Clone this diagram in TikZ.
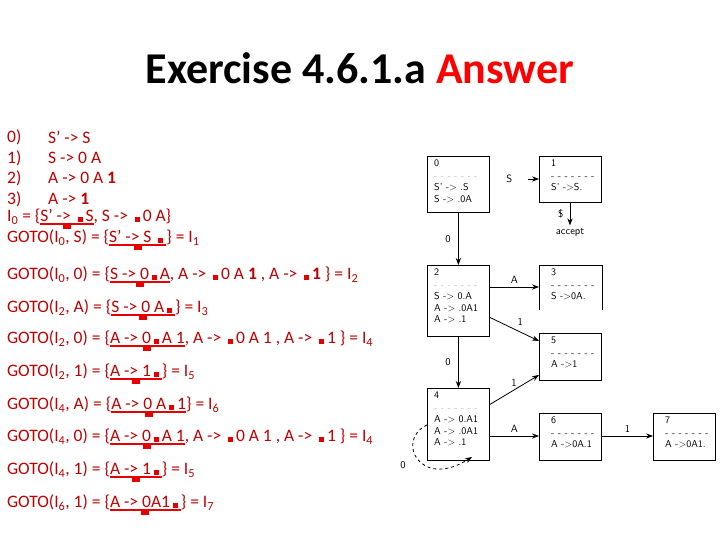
\documentclass[tikz,border=0pt]{standalone}
\usepackage{fontspec}
\setmainfont{Carlito}
\usetikzlibrary{arrows.meta}
\definecolor{dred}{RGB}{192,0,0}
\definecolor{ured}{RGB}{230,0,0}
\newcommand\dt{\,{\color{ured}\rule{5pt}{5pt}}\,}
\newcommand\sub[1]{\textsubscript{#1}}
\newcommand\ubr[1]{\setbox0\hbox{#1}\rlap{\color{ured}\raisebox{-3pt}{\rule{\wd0}{1.5pt}}\kern-0.5\wd0\kern-4pt\raisebox{-7pt}{\rule{8pt}{5pt}}}\box0}
\tikzset{
  rule/.style={anchor=west, text=dred, font=\fontsize{17.5}{17.5}\selectfont, inner sep=0pt},
  st/.style={draw, thick, minimum width=62pt, anchor=north west, inner sep=0pt},
  itm/.style={anchor=north west, font=\fontsize{10}{11.5}\selectfont\sffamily, align=left, inner sep=0pt},
  tr/.style={-{Stealth[length=7pt]}, thick},
  lab/.style={font=\fontsize{10.5}{10.5}\selectfont\sffamily}
}
\begin{document}
\begin{tikzpicture}[x=1pt, y=-1pt]
  \useasboundingbox (0,0) rectangle (720,540);
  \node[font=\fontsize{44}{44}\selectfont\bfseries] (title) at (360,68) {Exercise 4.6.1.a \textcolor{red}{Answer}};

  % grammar
  \foreach \n/\p/\y in {0)/S' -> S/137, 1)/S -> 0 A/158, 2)/A -> 0 A \textbf{1}/178, 3)/A -> \textbf{1}/199} {
    \node[rule] at (7,\y) {\n};
    \node[rule] at (48,\y) {\p};
  }
  \node[rule] (i0) at (7,219) {I\sub0 = \{\ubr{S' -> \dt S} , S -> \dt 0 A\}};
  \node[rule] (g1) at (7,240) {GOTO(I\sub0, S) = \{\ubr{S' -> S \dt} \} = I\sub1};
  \node[rule] (g2) at (7,277) {GOTO(I\sub0, 0) = \{\ubr{S -> 0\dt A}, A -> \dt 0 A \textbf{1} , A -> \dt \textbf{1} \} = I\sub2};
  \node[rule] (g3) at (7,310) {GOTO(I\sub2, A) = \{\ubr{S -> 0 A\dt} \} = I\sub3};
  \node[rule] (g4) at (7,341) {GOTO(I\sub2, 0) = \{\ubr{A -> 0\dt A 1}, A -> \dt 0 A 1 , A -> \dt 1 \} = I\sub4};
  \node[rule] (g5) at (7,374) {GOTO(I\sub2, 1) = \{\ubr{A -> 1\dt} \} = I\sub5};
  \node[rule] (g6) at (7,407) {GOTO(I\sub4, A) = \{\ubr{A -> 0 A\dt 1}\} = I\sub6};
  \node[rule] (g7) at (7,439) {GOTO(I\sub4, 0) = \{\ubr{A -> 0\dt A 1} , A -> \dt 0 A 1 , A -> \dt 1 \} = I\sub4};
  \node[rule] (g8) at (7,472) {GOTO(I\sub4, 1) = \{\ubr{A -> 1\dt} \} = I\sub5};
  \node[rule] (g9) at (7,505) {GOTO(I\sub6, 1) = \{\ubr{A -> 0A1\dt} \} = I\sub7};

  % states
  \node[st, minimum height=56pt] (s0) at (427,156) {};
  \node[st, minimum height=46pt] (s1) at (539,156) {};
  \node[st, minimum height=71pt] (s2) at (427,265) {};
  \draw[thick] (539,310) |- (602,265) -- (602,310);
  \coordinate (s3) at (539,287);
  \node[st, minimum height=47pt] (s5) at (539,333) {};
  \node[st, minimum height=72pt] (s4) at (427,388) {};
  \node[st, minimum height=47pt] (s6) at (539,413) {};
  \node[st, minimum height=47pt] (s7) at (653,413) {};

  \node[itm] at (434,160) {0\\[1pt]\textcolor{gray!60}{- - - - - - -}\\S' -> .S\\S -> .0A};
  \node[itm] at (551,160) {1\\[1pt]- - - - - - -\\S' ->S.};
  \node[itm] at (434,269) {2\\[1pt]\textcolor{gray!60}{- - - - - - -}\\S -> 0.A\\A -> .0A1\\A -> .1};
  \node[itm] at (551,269) {3\\[1pt]- - - - - - -\\S ->0A.};
  \node[itm] at (551,337) {5\\[1pt]- - - - - - -\\A ->1};
  \node[itm] at (434,392) {4\\[1pt]\textcolor{gray!60}{- - - - - - -}\\A -> 0.A1\\A -> .0A1\\A -> .1};
  \node[itm] at (551,417) {6\\[1pt]- - - - - - -\\A ->0A.1};
  \node[itm] at (665,417) {7\\[1pt]- - - - - - -\\A ->0A1.};

  % transitions
  \coordinate (sin) at (528,179);
  \node[lab] (acc) at (570,233) {accept};
  \draw[tr] (sin) -- (s1.west |- sin) node[lab, pos=0, left=12pt] {S};
  \draw[tr] (s1.south -| acc) -- (acc.north) node[lab, midway, left=3pt] {\$};
  \draw[tr] (s0) -- (s2) node[lab, midway, left=4pt] {0};
  \draw[tr] (s2.east |- s3) -- (s3) node[lab, midway, above] {A};
  \draw[tr] (489,317) -- (s5.west |- 0,341) node[lab, midway, above right] {1};
  \draw[tr] (s2) -- (s4) node[lab, midway, left=4pt] {0};
  \draw[tr] (489,405) -- (s5.west |- 0,375) node[lab, midway, above] {1};
  \draw[tr] (s4.east |- 0,436) -- (s6.west |- 0,436) node[lab, midway, above] {A};
  \draw[tr] (s6.east |- 0,436) -- (s7.west |- 0,436) node[lab, midway, above] {1};
  \draw[tr, dashed] (427,425) .. controls (395,440) and (420,490) .. (472,457);
  \node[lab] at (403,465) {0};
\end{tikzpicture}
\end{document}
